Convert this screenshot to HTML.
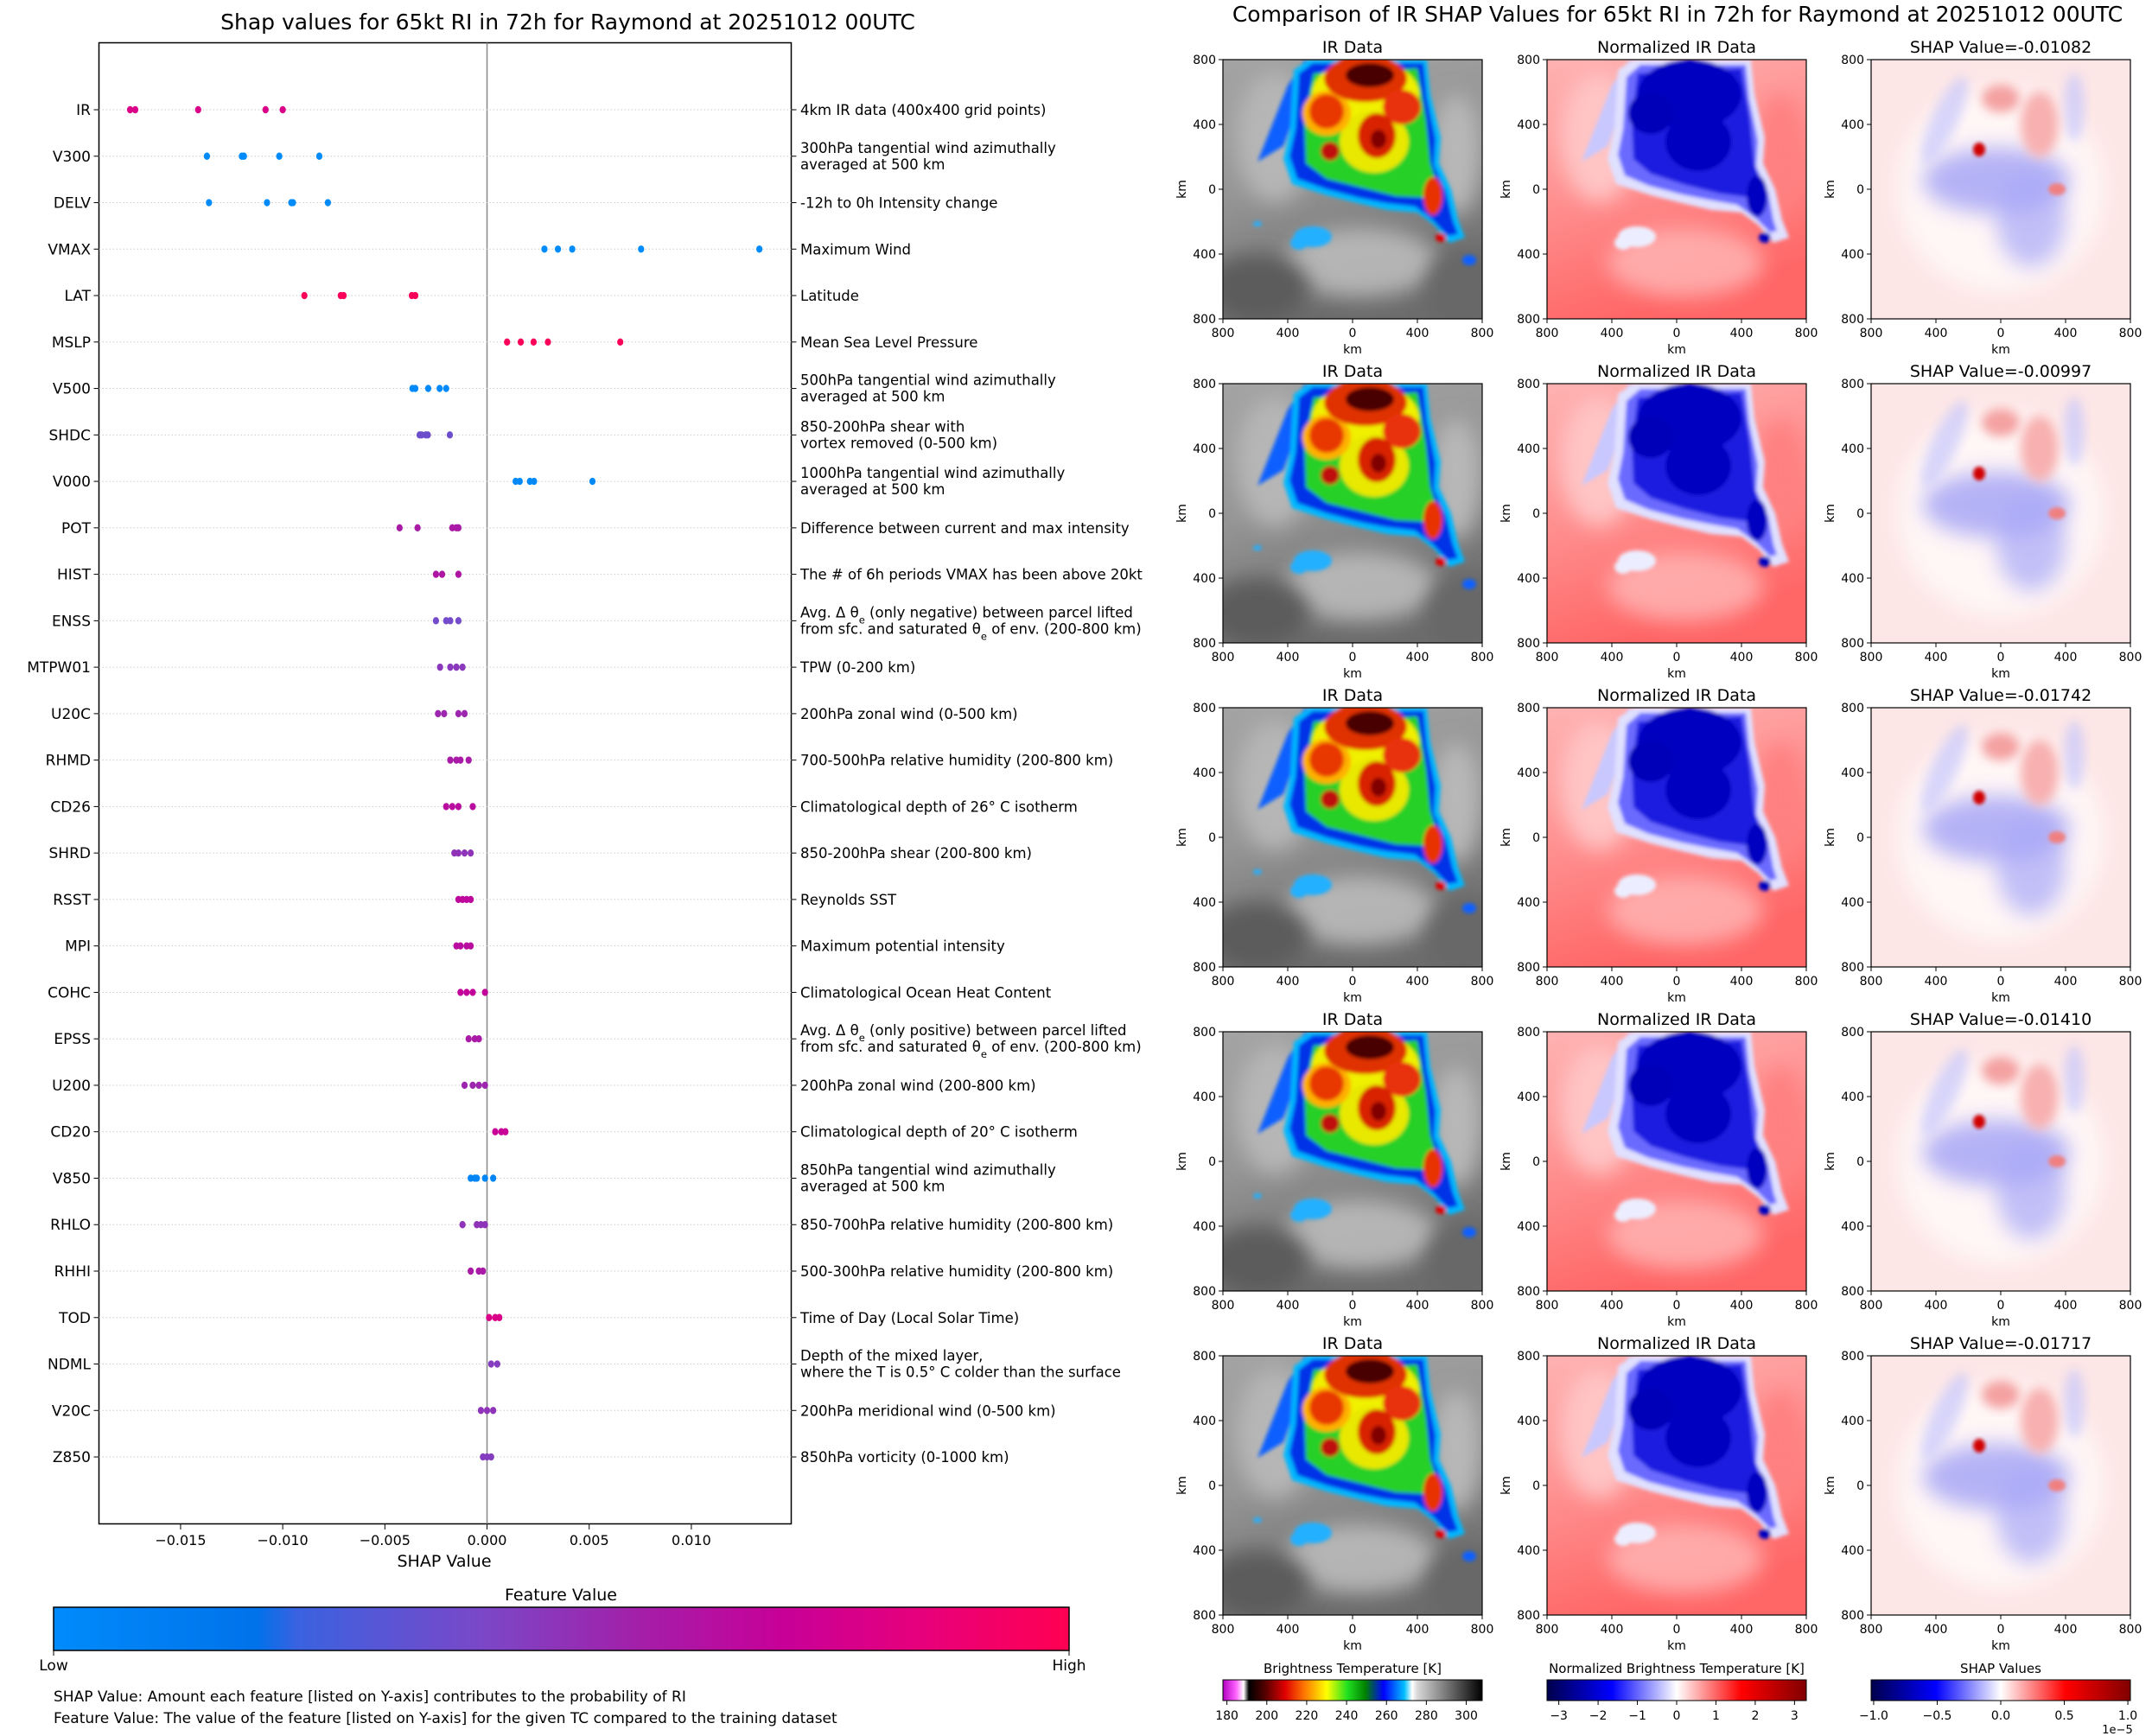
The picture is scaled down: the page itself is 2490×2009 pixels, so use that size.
<!DOCTYPE html>
<html><head><meta charset="utf-8">
<style>
html,body{margin:0;padding:0;background:#fff;}
svg{display:block;font-family:"DejaVu Sans","Liberation Sans",sans-serif;}
</style></head>
<body>
<svg id="root" width="2490" height="2009" viewBox="0 0 2490 2009" xmlns="http://www.w3.org/2000/svg">
<defs>
  <linearGradient id="fvGrad" x1="0" x2="1" y1="0" y2="0">
    <stop offset="0" stop-color="#008bfb"/><stop offset="0.2" stop-color="#0072ea"/>
    <stop offset="0.24" stop-color="#3a62e0"/><stop offset="0.42" stop-color="#7a48c8"/>
    <stop offset="0.58" stop-color="#a41ea8"/><stop offset="0.72" stop-color="#c80098"/>
    <stop offset="0.86" stop-color="#e8007a"/><stop offset="1" stop-color="#ff0052"/>
  </linearGradient>
  <linearGradient id="btGrad" x1="0" x2="1" y1="0" y2="0">
    <stop offset="0" stop-color="#b000c0"/><stop offset="0.05" stop-color="#ff60ff"/>
    <stop offset="0.08" stop-color="#ffffff"/><stop offset="0.1" stop-color="#000000"/>
    <stop offset="0.16" stop-color="#500000"/><stop offset="0.24" stop-color="#e00000"/>
    <stop offset="0.32" stop-color="#ff8000"/><stop offset="0.4" stop-color="#ffff00"/>
    <stop offset="0.48" stop-color="#20e020"/><stop offset="0.55" stop-color="#008000"/>
    <stop offset="0.62" stop-color="#0000ff"/><stop offset="0.7" stop-color="#00c0ff"/>
    <stop offset="0.73" stop-color="#ffffff"/><stop offset="0.75" stop-color="#d8d8d8"/>
    <stop offset="1" stop-color="#000000"/>
  </linearGradient>
  <linearGradient id="seisGrad" x1="0" x2="1" y1="0" y2="0">
    <stop offset="0" stop-color="#00004c"/><stop offset="0.25" stop-color="#0000ff"/>
    <stop offset="0.5" stop-color="#ffffff"/><stop offset="0.75" stop-color="#ff0000"/>
    <stop offset="1" stop-color="#800000"/>
  </linearGradient>
  <linearGradient id="irBg" x1="0" x2="0.3" y1="0" y2="1">
    <stop offset="0" stop-color="#a4a4a4"/><stop offset="0.5" stop-color="#959595"/><stop offset="1" stop-color="#6c6c6c"/>
  </linearGradient>
  <linearGradient id="nBg" x1="0" x2="0.3" y1="0" y2="1">
    <stop offset="0" stop-color="#ffb2b2"/><stop offset="0.5" stop-color="#ff9090"/><stop offset="1" stop-color="#ff6666"/>
  </linearGradient>
  <filter id="b2" x="-20%" y="-20%" width="140%" height="140%"><feGaussianBlur stdDeviation="2"/></filter>
  <filter id="b6" x="-30%" y="-30%" width="160%" height="160%"><feGaussianBlur stdDeviation="6"/></filter>
  <filter id="b12" x="-40%" y="-40%" width="180%" height="180%"><feGaussianBlur stdDeviation="12"/></filter>
  <clipPath id="imgClip"><rect x="0" y="0" width="300" height="300"/></clipPath>

  <g id="irImg" clip-path="url(#imgClip)">
    <rect width="300" height="300" fill="url(#irBg)"/>
    <ellipse cx="60" cy="90" rx="45" ry="75" fill="#b6b6b6" filter="url(#b12)"/>
    <ellipse cx="160" cy="235" rx="90" ry="40" fill="#c4c4c4" opacity="0.8" filter="url(#b12)"/>
    <ellipse cx="270" cy="110" rx="28" ry="70" fill="#b8b8b8" filter="url(#b12)"/>
    <ellipse cx="40" cy="265" rx="60" ry="40" fill="#5c5c5c" filter="url(#b12)"/>
    <ellipse cx="275" cy="265" rx="40" ry="45" fill="#686868" filter="url(#b12)"/>
    <g filter="url(#b2)">
      <path d="M40,118 L75,30 L95,0 L104,8 L70,100 Z" fill="#1060ff"/>
      <path d="M82,12 L100,0 L236,0 L240,40 L252,90 L250,120 L264,150 L272,185 L280,206 L262,212 L245,192 L225,177 L190,174 L160,167 L120,157 L80,144 L70,115 L78,80 Z" fill="#00b8ff"/>
      <path d="M88,16 L104,4 L232,4 L236,44 L246,92 L244,122 L258,152 L266,186 L272,202 L260,204 L243,186 L222,170 L188,166 L158,160 L120,150 L86,138 L77,112 L84,80 Z" fill="#0030e8"/>
      <path d="M105,16 L225,10 L235,70 L240,120 L250,150 L238,160 L200,158 L160,148 L120,138 L96,120 L94,70 Z" fill="#28d028"/>
      <ellipse cx="165" cy="40" rx="62" ry="40" fill="#f0f000"/>
      <ellipse cx="175" cy="95" rx="40" ry="36" fill="#e8e800"/>
      <ellipse cx="120" cy="62" rx="28" ry="26" fill="#ffb000"/>
      <ellipse cx="165" cy="22" rx="48" ry="27" fill="#e03000"/>
      <ellipse cx="120" cy="60" rx="20" ry="20" fill="#e83800"/>
      <ellipse cx="207" cy="55" rx="22" ry="20" fill="#e83010"/>
      <ellipse cx="178" cy="88" rx="22" ry="26" fill="#d82000"/>
      <ellipse cx="124" cy="106" rx="11" ry="11" fill="#c01010"/>
      <ellipse cx="243" cy="158" rx="11" ry="22" fill="#e83000"/>
      <ellipse cx="252" cy="206" rx="6" ry="5" fill="#e00000"/>
      <ellipse cx="170" cy="18" rx="28" ry="14" fill="#4a0000"/>
      <ellipse cx="180" cy="92" rx="9" ry="11" fill="#800000"/>
      <ellipse cx="104" cy="205" rx="22" ry="12" fill="#20b0ff"/>
      <ellipse cx="88" cy="212" rx="10" ry="8" fill="#20b0ff"/>
      <ellipse cx="40" cy="190" rx="5" ry="3" fill="#20b0ff"/>
      <ellipse cx="285" cy="232" rx="8" ry="6" fill="#1060ff"/>
    </g>
  </g>

  <g id="normImg" clip-path="url(#imgClip)">
    <rect width="300" height="300" fill="url(#nBg)"/>
    <ellipse cx="60" cy="90" rx="45" ry="75" fill="#ffc4c4" filter="url(#b12)"/>
    <ellipse cx="160" cy="235" rx="90" ry="40" fill="#ffb8b8" opacity="0.8" filter="url(#b12)"/>
    <ellipse cx="270" cy="110" rx="28" ry="70" fill="#ff8080" filter="url(#b12)"/>
    <g filter="url(#b2)">
      <path d="M40,118 L75,30 L95,0 L104,8 L70,100 Z" fill="#c8c8ff"/>
      <path d="M82,12 L100,0 L236,0 L240,40 L252,90 L250,120 L264,150 L272,185 L280,206 L262,212 L245,192 L225,177 L190,174 L160,167 L120,157 L80,144 L70,115 L78,80 Z" fill="#e0e0ff"/>
      <path d="M92,20 L108,6 L230,6 L234,46 L244,94 L242,124 L256,154 L262,186 L266,198 L258,200 L242,184 L220,168 L186,162 L156,156 L118,146 L90,134 L82,110 L88,80 Z" fill="#6a6aff"/>
      <path d="M105,16 L225,10 L235,70 L240,120 L250,150 L238,160 L200,155 L160,145 L120,132 L100,115 L98,70 Z" fill="#1a1ae0"/>
      <ellipse cx="165" cy="40" rx="60" ry="40" fill="#0000c0"/>
      <ellipse cx="175" cy="95" rx="38" ry="34" fill="#0000c0"/>
      <ellipse cx="120" cy="62" rx="26" ry="24" fill="#0000b8"/>
      <ellipse cx="243" cy="158" rx="12" ry="24" fill="#0000c0"/>
      <ellipse cx="252" cy="206" rx="7" ry="6" fill="#0000c0"/>
      <ellipse cx="104" cy="205" rx="22" ry="12" fill="#eceeff"/>
      <ellipse cx="88" cy="212" rx="10" ry="8" fill="#eceeff"/>
    </g>
  </g>

  <g id="shapImg" clip-path="url(#imgClip)">
    <rect width="300" height="300" fill="#fde6e6"/>
    <ellipse cx="150" cy="150" rx="120" ry="120" fill="#fff6f6" filter="url(#b12)"/>
    <ellipse cx="145" cy="140" rx="85" ry="38" fill="#9c9cf6" opacity="0.75" filter="url(#b12)"/>
    <ellipse cx="185" cy="185" rx="40" ry="55" fill="#a8a8f8" opacity="0.7" filter="url(#b12)"/>
    <ellipse cx="85" cy="70" rx="15" ry="55" fill="#c8c8fc" opacity="0.7" filter="url(#b6)" transform="rotate(25 85 70)"/>
    <ellipse cx="235" cy="55" rx="12" ry="40" fill="#c8c8fc" opacity="0.7" filter="url(#b6)"/>
    <ellipse cx="150" cy="45" rx="22" ry="16" fill="#f4a0a0" filter="url(#b6)"/>
    <ellipse cx="195" cy="75" rx="22" ry="38" fill="#f8b0b0" filter="url(#b6)"/>
    <ellipse cx="125" cy="104" rx="7" ry="8" fill="#d00000" filter="url(#b2)"/>
    <ellipse cx="215" cy="150" rx="10" ry="7" fill="#f08080" filter="url(#b2)"/>
  </g>
</defs>

<!-- LEFT CHART -->
<text x="657" y="34" font-size="25" text-anchor="middle">Shap values for 65kt RI in 72h for Raymond at 20251012 00UTC</text>
<g id="plot">
  <rect x="114.5" y="49.5" width="801" height="1714" fill="none" stroke="#000" stroke-width="1.5"/>
</g>
<g id="legend">
  <text x="649" y="1852" font-size="19" text-anchor="middle">Feature Value</text>
  <rect x="62" y="1860" width="1175" height="50" fill="url(#fvGrad)" stroke="#000" stroke-width="1.5"/>
  <line x1="62" y1="1910" x2="62" y2="1916" stroke="#000"/>
  <line x1="1237" y1="1910" x2="1237" y2="1916" stroke="#000"/>
  <text x="62" y="1933" font-size="17" text-anchor="middle">Low</text>
  <text x="1237" y="1933" font-size="17" text-anchor="middle">High</text>
  <text x="62" y="1969" font-size="17">SHAP Value: Amount each feature [listed on Y-axis] contributes to the probability of RI</text>
  <text x="62" y="1994" font-size="17">Feature Value: The value of the feature [listed on Y-axis] for the given TC compared to the training dataset</text>
</g>

<!-- RIGHT -->
<text x="1941" y="25" font-size="25" text-anchor="middle">Comparison of IR SHAP Values for 65kt RI in 72h for Raymond at 20251012 00UTC</text>
<g id="panels"></g>
<g id="cbars"></g>
</svg>

<script>
// ---- data ----
const features = ["IR","V300","DELV","VMAX","LAT","MSLP","V500","SHDC","V000","POT","HIST","ENSS","MTPW01","U20C","RHMD","CD26","SHRD","RSST","MPI","COHC","EPSS","U200","CD20","V850","RHLO","RHHI","TOD","NDML","V20C","Z850"];
const shapValues = [
  [-0.01747,-0.01722,-0.01414,-0.01084,-0.01000],
  [-0.01371,-0.01200,-0.01190,-0.01017,-0.00821],
  [-0.01361,-0.01077,-0.00958,-0.00950,-0.00779],
  [0.00281,0.00347,0.00417,0.00754,0.01333],
  [-0.00894,-0.00716,-0.00702,-0.00368,-0.00351],
  [0.00098,0.00165,0.00228,0.00298,0.00652],
  [-0.00365,-0.00351,-0.00288,-0.00232,-0.00200],
  [-0.0033,-0.0032,-0.0030,-0.0029,-0.00182],
  [0.0014,0.0016,0.0021,0.0023,0.00516],
  [-0.00428,-0.0034,-0.0017,-0.0015,-0.0014],
  [-0.0025,-0.0022,-0.0014],
  [-0.0025,-0.0020,-0.0018,-0.0014],
  [-0.0023,-0.0018,-0.0015,-0.0012],
  [-0.0024,-0.0021,-0.0014,-0.0011],
  [-0.0018,-0.0015,-0.0013,-0.0009],
  [-0.0020,-0.0017,-0.0014,-0.0007],
  [-0.0016,-0.0014,-0.0011,-0.0008],
  [-0.0014,-0.0012,-0.0010,-0.0008],
  [-0.0015,-0.0013,-0.0010,-0.0008],
  [-0.0013,-0.0010,-0.0007,-0.0001],
  [-0.0009,-0.0006,-0.0004],
  [-0.0011,-0.0007,-0.0004,-0.0001],
  [0.0004,0.0007,0.0009],
  [-0.0008,-0.0006,-0.0005,-0.0001,0.0003],
  [-0.0012,-0.0005,-0.0003,-0.0001],
  [-0.0008,-0.0004,-0.0002],
  [0.0001,0.0004,0.0006],
  [0.0002,0.0005],
  [-0.0003,0.0,0.0003],
  [-0.0002,0.0,0.0002]
];
const featureLevels = [0.8,0,0,0,0.97,0.97,0.02,0.38,0.02,0.6,0.62,0.4,0.48,0.55,0.6,0.66,0.5,0.68,0.66,0.7,0.6,0.55,0.72,0.05,0.5,0.6,0.8,0.46,0.5,0.46];
const descriptions = [
 ["4km IR data (400x400 grid points)"],
 ["300hPa tangential wind azimuthally","averaged at 500 km"],
 ["-12h to 0h Intensity change"],["Maximum Wind"],["Latitude"],["Mean Sea Level Pressure"],
 ["500hPa tangential wind azimuthally","averaged at 500 km"],
 ["850-200hPa shear with","vortex removed (0-500 km)"],
 ["1000hPa tangential wind azimuthally","averaged at 500 km"],
 ["Difference between current and max intensity"],
 ["The # of 6h periods VMAX has been above 20kt"],
 ["Avg. Δ θ|e| (only negative) between parcel lifted","from sfc. and saturated θ|e| of env. (200-800 km)"],
 ["TPW (0-200 km)"],["200hPa zonal wind (0-500 km)"],["700-500hPa relative humidity (200-800 km)"],
 ["Climatological depth of 26° C isotherm"],["850-200hPa shear (200-800 km)"],["Reynolds SST"],
 ["Maximum potential intensity"],["Climatological Ocean Heat Content"],
 ["Avg. Δ θ|e| (only positive) between parcel lifted","from sfc. and saturated θ|e| of env. (200-800 km)"],
 ["200hPa zonal wind (200-800 km)"],["Climatological depth of 20° C isotherm"],
 ["850hPa tangential wind azimuthally","averaged at 500 km"],
 ["850-700hPa relative humidity (200-800 km)"],["500-300hPa relative humidity (200-800 km)"],
 ["Time of Day (Local Solar Time)"],
 ["Depth of the mixed layer,","where the T is 0.5° C colder than the surface"],
 ["200hPa meridional wind (0-500 km)"],["850hPa vorticity (0-1000 km)"]
];
const xTicks = [-0.015,-0.010,-0.005,0.000,0.005,0.010];
const xTickLabels = ["\u22120.015","\u22120.010","\u22120.005","0.000","0.005","0.010"];
const panelShapTitles = ["SHAP Value=-0.01082","SHAP Value=-0.00997","SHAP Value=-0.01742","SHAP Value=-0.01410","SHAP Value=-0.01717"];
const kmTickLabels = ["800","400","0","400","800"];
const btTicks = [180,200,220,240,260,280,300];
const normTicks = [-3,-2,-1,0,1,2,3];
const shapTicks = [-1.0,-0.5,0.0,0.5,1.0];
const shapTickLabels = ["\u22121.0","\u22120.5","0.0","0.5","1.0"];

// ---- axes ----
const NS="http://www.w3.org/2000/svg";
const X0=114.5, X1=915.5, xMin=-0.018995, xMax=0.014889;
function xs(v){return X0+(v-xMin)/(xMax-xMin)*(X1-X0);}
const rowTop=127, rowStep=53.76;
function ys(i){return rowTop+i*rowStep;}
function mk(tag,attrs,parent){const e=document.createElementNS(NS,tag);for(const k in attrs)e.setAttribute(k,attrs[k]);parent.appendChild(e);return e;}
const stops=[[0,[0,139,251]],[0.2,[0,114,234]],[0.24,[58,98,224]],[0.42,[122,72,200]],[0.58,[164,30,168]],[0.72,[200,0,152]],[0.86,[232,0,122]],[1,[255,0,82]]];
function cmap(t){for(let i=1;i<stops.length;i++){if(t<=stops[i][0]){const a=stops[i-1],b=stops[i];const f=(t-a[0])/(b[0]-a[0]);const c=a[1].map((v,j)=>Math.round(v+(b[1][j]-v)*f));return `rgb(${c[0]},${c[1]},${c[2]})`;}}return 'rgb(255,0,82)';}
function addText(parent,x,y,str,size,anchor){
  const t=mk('text',{x:x,y:y,'font-size':size,'text-anchor':anchor||'start'},parent);
  const parts=str.split('|');
  parts.forEach((p,k)=>{const ts=mk('tspan',{},t); if(k%2===1){ts.setAttribute('baseline-shift','sub');ts.setAttribute('font-size',size*0.7);} ts.textContent=p;});
  return t;
}

const plot=document.getElementById('plot');
const z=mk('line',{x1:xs(0),x2:xs(0),y1:49.5,y2:1763.5,stroke:'#888','stroke-width':1.5},plot);


features.forEach((f,i)=>{
  const y=ys(i);
  const g=mk('line',{x1:X0,x2:X1,y1:y,y2:y,stroke:'#ccc','stroke-width':1,'stroke-dasharray':'1.5,2.5'},plot);
  
  
  const tl=mk('line',{x1:X0-6,x2:X0,y1:y,y2:y,stroke:'#000'},plot);
  
  
  const tr=mk('line',{x1:X1,x2:X1+6,y1:y,y2:y,stroke:'#000'},plot);
  
  
  const lab=addText(plot,105,y+6,f,17,'end');
  
  
  const d=descriptions[i];
  d.forEach((line,k)=>{
    const yy = d.length===1 ? y+6 : y-4+k*19;
    const t=addText(plot,926,yy,line,16.5,'start');
    
    
  });
  const col=cmap(featureLevels[i]);
  shapValues[i].forEach(v=>{
    const c=mk('ellipse',{cx:xs(v),cy:y,rx:3.6,ry:4.2,fill:col},plot);
    
    
  });
});
xTicks.forEach((v,k)=>{
  const x=xs(v);
  const t=mk('line',{x1:x,x2:x,y1:1763.5,y2:1770,stroke:'#000'},plot);
  
  
  const l=addText(plot,x,1788,xTickLabels[k],16,'middle');
  
  
});
const xl=addText(plot,514,1813,'SHAP Value',19,'middle');



// ---- right panels ----
const panels=document.getElementById('panels');
const colX=[1415,1790,2165], rowY=[69,444,819,1194,1569];
const colTitles=["IR Data","Normalized IR Data",null];
const imgIds=["irImg","normImg","shapImg"];
const colNames=["ir-data","normalized-ir","shap-map"];
rowY.forEach((ry,r)=>{
  colX.forEach((cx,c)=>{
    const g=mk('g',{},panels);
    
    
    mk('use',{href:'#'+imgIds[c],x:cx,y:ry},g);
    mk('rect',{x:cx,y:ry,width:300,height:300,fill:'none',stroke:'#000','stroke-width':1.2},g);
    const title=colTitles[c]||panelShapTitles[r];
    const tt=addText(g,cx+150,ry-8,title,19,'middle');
    
    
    kmTickLabels.forEach((lab,k)=>{
      const p=k*75;
      mk('line',{x1:cx-5,x2:cx,y1:ry+p,y2:ry+p,stroke:'#000'},g);
      const yl=addText(g,cx-8,ry+p+5,lab,14,'end');
      
      
      mk('line',{x1:cx+p,x2:cx+p,y1:ry+300,y2:ry+305,stroke:'#000'},g);
      const xl2=addText(g,cx+p,ry+321,lab,14,'middle');
      
      
    });
    const kx=addText(g,cx+150,ry+340,'km',14,'middle');
    
    
    const ky=mk('text',{x:0,y:0,'font-size':14,'text-anchor':'middle',transform:`translate(${cx-43},${ry+150}) rotate(-90)`},g);
    ky.textContent='km';
    
    
  });
});

// ---- colorbars ----
const cb=document.getElementById('cbars');
function colorbar(x,w,grad,title,ticks,labels,vmin,vmax,name){
  const g=mk('g',{},cb);
  
  
  const t=addText(g,x+w/2,1936,title,15,'middle');
  
  
  mk('rect',{x:x,y:1944,width:w,height:24,fill:grad,stroke:'#000','stroke-width':1},g);
  ticks.forEach((v,k)=>{
    const px=x+(v-vmin)/(vmax-vmin)*w;
    mk('line',{x1:px,x2:px,y1:1968,y2:1973,stroke:'#000'},g);
    const l=addText(g,px,1990,labels[k],14,'middle');
    
    
  });
}
colorbar(1415,300,'url(#btGrad)','Brightness Temperature [K]',btTicks,btTicks.map(String),178,308,'brightness-temperature-colorbar');
colorbar(1790,300,'url(#seisGrad)','Normalized Brightness Temperature [K]',normTicks,normTicks.map(v=>v<0?'\u2212'+(-v):String(v)),-3.3,3.3,'normalized-temperature-colorbar');
colorbar(2165,300,'url(#seisGrad)','SHAP Values',shapTicks,shapTickLabels,-1.02,1.02,'shap-values-colorbar');
const ex=addText(cb,2450,2006,'1e\u22125',13,'middle');


</script>
</body></html>
